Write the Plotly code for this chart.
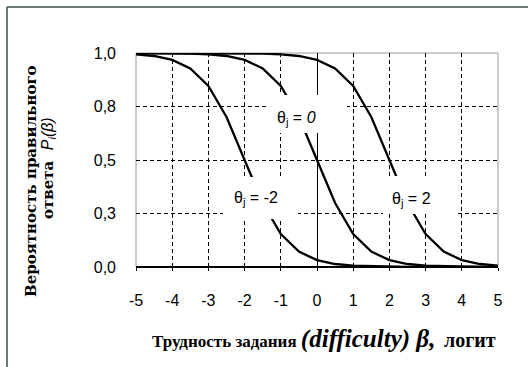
import plotly.graph_objects as go

# ---------------- data ----------------
beta = [-5, -4.5, -4, -3.5, -3, -2.5, -2, -1.5, -1, -0.5, 0,
        0.5, 1, 1.5, 2, 2.5, 3, 3.5, 4, 4.5, 5]

p_theta_m2 = [0.994, 0.986, 0.968, 0.928, 0.846, 0.701, 0.500, 0.299, 0.154, 0.072, 0.032,
              0.014, 0.006, 0.003, 0.001, 0.000, 0.000, 0.000, 0.000, 0.000, 0.000]
p_theta_0 = [1.000, 1.000, 0.999, 0.997, 0.994, 0.986, 0.968, 0.928, 0.846, 0.701, 0.500,
             0.299, 0.154, 0.072, 0.032, 0.014, 0.006, 0.003, 0.001, 0.000, 0.000]
p_theta_2 = [1.000, 1.000, 1.000, 1.000, 1.000, 1.000, 0.999, 0.997, 0.994, 0.986, 0.968,
             0.928, 0.846, 0.701, 0.500, 0.299, 0.154, 0.072, 0.032, 0.014, 0.006]

x_ticks = [-5, -4, -3, -2, -1, 0, 1, 2, 3, 4, 5]
y_ticks = [0, 0.25, 0.5, 0.75, 1.0]
y_tick_text = ["0,0", "0,3", "0,5", "0,8", "1,0"]

series = [("θj = -2", p_theta_m2), ("θj = 0", p_theta_0), ("θj = 2", p_theta_2)]

# ---------------- layout geometry ----------------
W, H = 528, 367
ML, MR, MT, MB = 136, 30, 53, 100
PW, PH = W - ML - MR, H - MT - MB


def px(xp):
    return (xp - ML) / PW


def py(yp):
    return (H - MB - yp) / PH


fig = go.Figure()
for name, vals in series:
    fig.add_trace(go.Scatter(x=beta, y=vals, mode="lines", name=name,
                             line=dict(color="black", width=2.3),
                             showlegend=False, hoverinfo="skip"))

tick_font = dict(family="Liberation Sans, Arial, sans-serif", size=16, color="black")

fig.update_xaxes(range=[-5, 5], tickvals=x_ticks, ticktext=[str(v) for v in x_ticks],
                 tickfont=tick_font, showgrid=True, gridcolor="black", gridwidth=1,
                 griddash="4px,3px", zeroline=True, zerolinecolor="black", zerolinewidth=1,
                 showline=False, ticks="outside", ticklen=3, tickcolor="black",
                 ticklabelstandoff=16)
fig.update_yaxes(range=[0, 1], tickvals=y_ticks, ticktext=y_tick_text,
                 tickfont=tick_font, showgrid=True, gridcolor="black", gridwidth=1,
                 griddash="4px,3px", zeroline=True, zerolinecolor="black", zerolinewidth=1.5,
                 showline=False, ticks="", ticklabelstandoff=19)

shapes = [
    # plot-area border
    dict(type="rect", xref="paper", yref="paper", x0=0, y0=0, x1=1, y1=1,
         line=dict(color="#9a9a9a", width=1), layer="below"),
    # outer chart frame (top and left edges visible)
    dict(type="line", xref="paper", yref="paper", x0=px(7), x1=px(W + 20), y0=py(7), y1=py(7),
         line=dict(color="#3f4f47", width=1.5)),
    dict(type="line", xref="paper", yref="paper", x0=px(7), x1=px(7), y0=py(7), y1=py(H + 20),
         line=dict(color="#3f4f47", width=1.5)),
]

# white label boxes (cover curves/gridlines like the original text boxes)
boxes = [(267, 95, 347, 133), (223, 177, 298, 219), (383, 176, 458, 214)]
for (x0, y0, x1, y1) in boxes:
    shapes.append(dict(type="rect", xref="paper", yref="paper",
                       x0=px(x0), x1=px(x1), y0=py(y1), y1=py(y0),
                       fillcolor="white", line=dict(width=0), layer="above"))

lab_font = dict(family="Liberation Sans, Arial, sans-serif", size=16, color="black")
annotations = [
    dict(text="θ<sub>j</sub> = <i>0</i>", x=px(296), y=py(118)),
    dict(text="θ<sub>j</sub> = -2", x=px(256), y=py(198)),
    dict(text="θ<sub>j</sub> = 2", x=px(411), y=py(199)),
]
for a in annotations:
    a.update(xref="paper", yref="paper", showarrow=False, font=lab_font,
             xanchor="center", yanchor="middle")

serif_wide = "DejaVu Serif"
annotations += [
    dict(text="Вероятность правильного", x=px(31), y=py(181), textangle=-90,
         font=dict(family=serif_wide, size=15, color="black", weight="bold")),
    dict(text="ответа  <span style='font-family:Liberation Sans;font-weight:normal;font-size:16px'><i>P<sub>i</sub>(β)</i></span>",
         x=px(48), y=py(168), textangle=-90,
         font=dict(family=serif_wide, size=15, color="black", weight="bold")),
    dict(text="Трудность задания <span style='font-size:25px'><i>(difficulty) β,</i></span>  "
              "<span style='font-size:20px'>логит</span>",
         x=px(324), y=py(339),
         font=dict(family="Liberation Serif, Times New Roman, serif", size=17,
                   color="black", weight="bold")),
]
for a in annotations[3:]:
    a.update(xref="paper", yref="paper", showarrow=False, xanchor="center", yanchor="middle")

fig.update_layout(width=W, height=H, margin=dict(l=ML, r=MR, t=MT, b=MB),
                  plot_bgcolor="white", paper_bgcolor="white",
                  shapes=shapes, annotations=annotations)

fig.write_html("out.html", config={"displayModeBar": False},
               post_script="document.body.style.margin='0';")
